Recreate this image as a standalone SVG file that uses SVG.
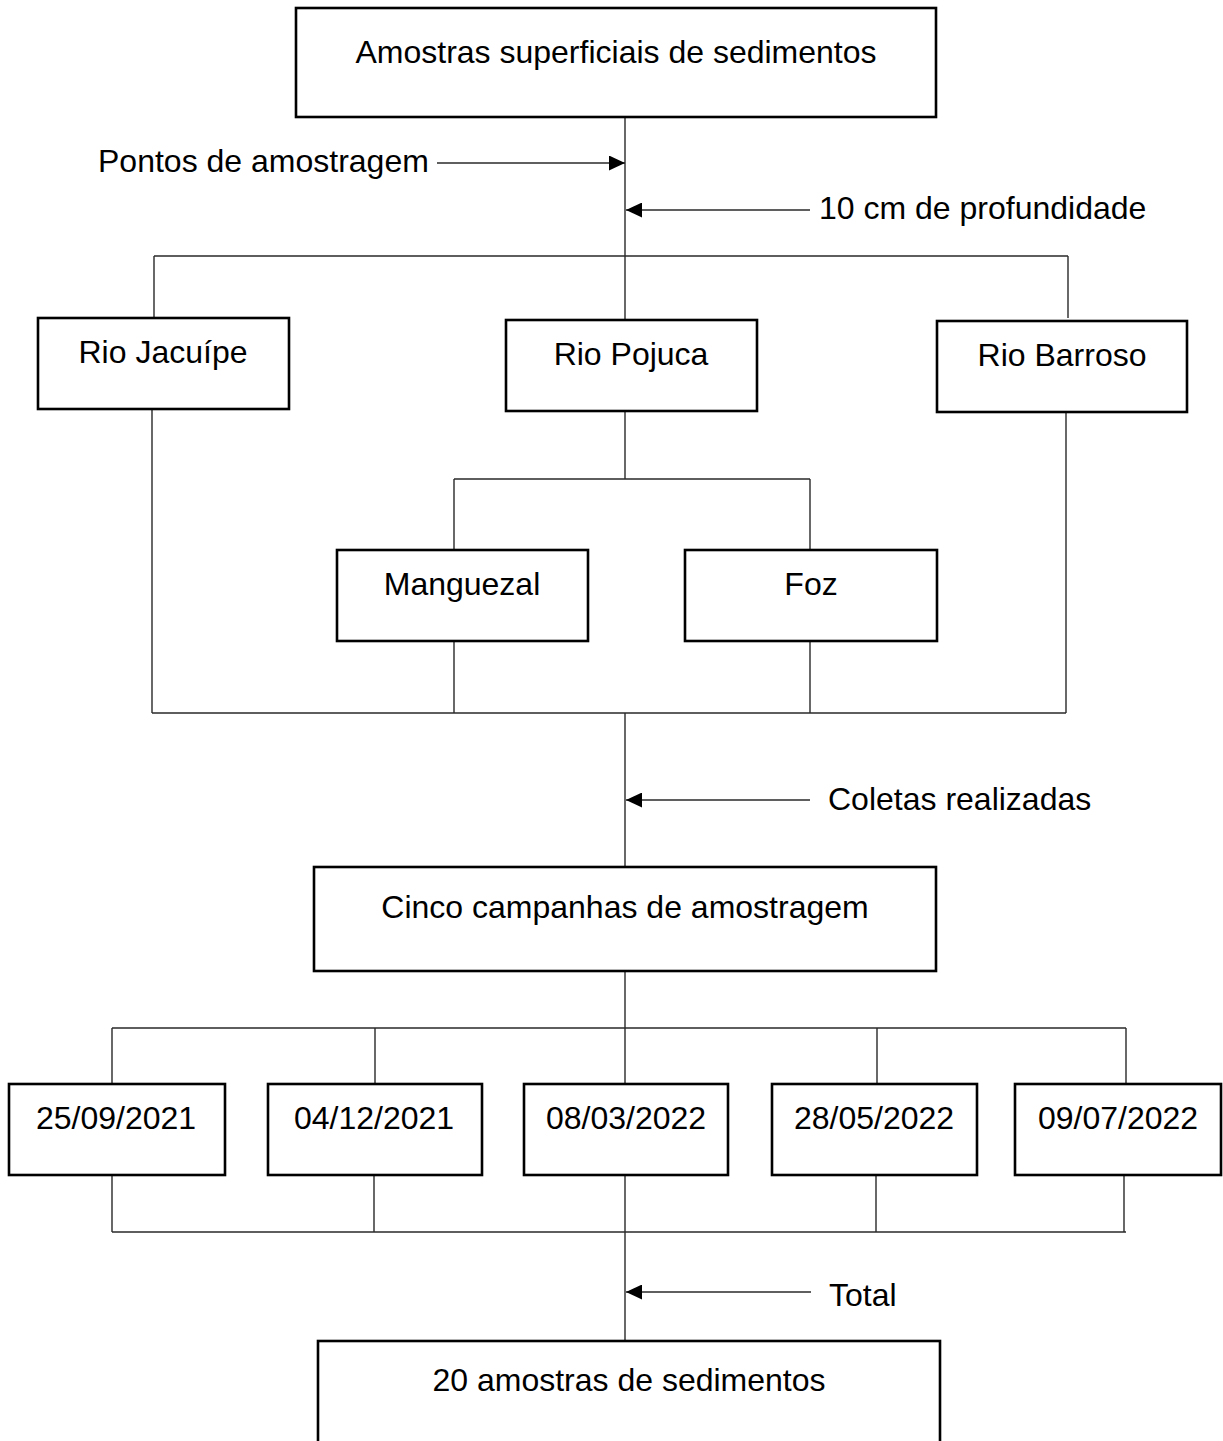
<svg xmlns="http://www.w3.org/2000/svg" width="1223" height="1441" viewBox="0 0 1223 1441">
<style>
.box{fill:#fff;stroke:#000;stroke-width:2.6}
.lbl{font-family:"Liberation Sans",Arial,sans-serif;font-size:32px;fill:#000}
.mid{text-anchor:middle}
.c{stroke:#2a2a2a;stroke-width:1.4;fill:none}
</style>
<defs>
<marker id="ah" markerUnits="userSpaceOnUse" markerWidth="16" markerHeight="15" refX="16" refY="7.5" orient="auto">
<path d="M0,0 L16,7.5 L0,15 Z" fill="#000"/>
</marker>
</defs>
<rect width="1223" height="1441" fill="#fff"/>
<g id="connectors">
<path class="c" d="M625,117 V320 M625,411 V479 M625,713 V867 M625,971 V1084 M625,1175 V1341"/>
<path class="c" d="M154,256 H1068 M154,256 V318 M1068,256 V318"/>
<path class="c" d="M152,409 V713 M1066,412 V713 M152,713 H1066"/>
<path class="c" d="M454,479 H810 M454,479 V550 M810,479 V550 M454,641 V713 M810,641 V713"/>
<path class="c" d="M112,1028 H1126 M112,1028 V1084 M375,1028 V1084 M877,1028 V1084 M1126,1028 V1084"/>
<path class="c" d="M112,1175 V1232 M374,1175 V1232 M876,1175 V1232 M1124,1175 V1232 M112,1232 H1126"/>
<line class="c" x1="437" y1="163" x2="625" y2="163" marker-end="url(#ah)"/>
<line class="c" x1="810" y1="210" x2="626" y2="210" marker-end="url(#ah)"/>
<line class="c" x1="810" y1="800" x2="626" y2="800" marker-end="url(#ah)"/>
<line class="c" x1="811" y1="1292" x2="626" y2="1292" marker-end="url(#ah)"/>
<text class="lbl" x="98" y="172">Pontos de amostragem</text>
<text class="lbl" x="819" y="219">10 cm de profundidade</text>
<text class="lbl" x="828" y="810">Coletas realizadas</text>
<text class="lbl" x="829" y="1306">Total</text>
</g>
<g id="n-top"><rect class="box" x="296" y="8" width="640" height="109"/><text class="lbl mid" x="616" y="63">Amostras superficiais de sedimentos</text></g>
<g id="n-jacuipe"><rect class="box" x="38" y="318" width="251" height="91"/><text class="lbl mid" x="163" y="363">Rio Jacuípe</text></g>
<g id="n-pojuca"><rect class="box" x="506" y="320" width="251" height="91"/><text class="lbl mid" x="631" y="365">Rio Pojuca</text></g>
<g id="n-barroso"><rect class="box" x="937" y="321" width="250" height="91"/><text class="lbl mid" x="1062" y="366">Rio Barroso</text></g>
<g id="n-manguezal"><rect class="box" x="337" y="550" width="251" height="91"/><text class="lbl mid" x="462" y="595">Manguezal</text></g>
<g id="n-foz"><rect class="box" x="685" y="550" width="252" height="91"/><text class="lbl mid" x="811" y="595">Foz</text></g>
<g id="n-cinco"><rect class="box" x="314" y="867" width="622" height="104"/><text class="lbl mid" x="625" y="918">Cinco campanhas de amostragem</text></g>
<g id="n-d1"><rect class="box" x="9" y="1084" width="216" height="91"/><text class="lbl mid" x="116" y="1129">25/09/2021</text></g>
<g id="n-d2"><rect class="box" x="268" y="1084" width="214" height="91"/><text class="lbl mid" x="374" y="1129">04/12/2021</text></g>
<g id="n-d3"><rect class="box" x="524" y="1084" width="204" height="91"/><text class="lbl mid" x="626" y="1129">08/03/2022</text></g>
<g id="n-d4"><rect class="box" x="772" y="1084" width="205" height="91"/><text class="lbl mid" x="874" y="1129">28/05/2022</text></g>
<g id="n-d5"><rect class="box" x="1015" y="1084" width="206" height="91"/><text class="lbl mid" x="1118" y="1129">09/07/2022</text></g>
<g id="n-total"><rect class="box" x="318" y="1341" width="622" height="120"/><text class="lbl mid" x="629" y="1391">20 amostras de sedimentos</text></g>
</svg>
